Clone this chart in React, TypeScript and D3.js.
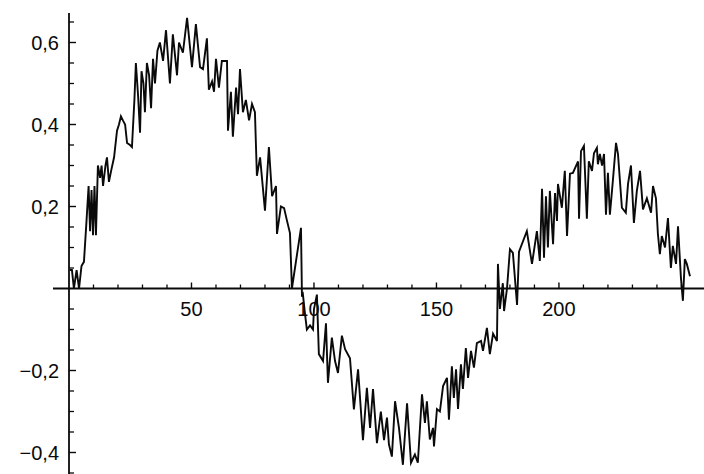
import { useEffect, useRef } from 'react';
import * as d3 from 'd3';

const sampleX = [
  0.4, 1.2, 2.0, 3.1, 4.1, 5.1, 6.1, 7.1, 8.0, 8.6, 9.2, 9.8, 10.4, 11.0, 11.8, 12.7, 13.3, 13.9, 14.9, 15.5,
  16.3, 17.3, 18.4, 19.6, 20.4, 21.2, 22.0, 22.9, 23.7, 24.9, 25.7, 26.7, 27.3, 28.2, 29.0, 29.6, 30.4, 31.0,
  31.8, 32.7, 33.5, 34.3, 35.1, 36.1, 37.1, 38.4, 39.6, 41.2, 42.4, 44.1, 44.9, 46.5, 48.2, 50.2, 51.8, 53.5,
  54.7, 56.3, 57.1, 58.4, 59.2, 60.0, 61.2, 62.4, 64.5, 64.9, 66.1, 66.9, 68.2, 69.0, 69.8, 71.0, 72.2, 73.5,
  74.7, 75.9, 76.7, 78.0, 80.0, 81.6, 82.9, 84.5, 84.9, 86.5, 87.8, 89.0, 90.2, 91.0, 94.7, 95.1, 95.5, 96.3,
  97.1, 98.4, 99.6, 100.0, 101.2, 102.0, 103.7, 104.9, 105.7, 107.3, 108.6, 109.8, 111.4, 112.7, 114.7, 116.3,
  118.0, 120.0, 121.6, 122.9, 124.1, 125.7, 127.3, 128.6, 129.8, 130.6, 131.8, 133.1, 134.7, 136.3, 138.0,
  139.6, 141.2, 142.4, 144.1, 145.3, 146.1, 147.3, 148.6, 149.0, 150.2, 151.4, 152.7, 154.3, 155.1, 156.3,
  157.1, 158.0, 158.8, 160.0, 160.8, 162.0, 162.9, 164.1, 165.3, 166.5, 168.2, 169.0, 170.6, 171.8, 173.1,
  174.7, 175.1, 175.9, 177.1, 177.6, 178.8, 180.0, 181.2, 182.9, 183.7, 186.9, 189.0, 191.0, 192.2, 193.1,
  193.9, 194.7, 195.5, 196.3, 197.6, 198.4, 199.2, 199.6, 201.2, 202.4, 203.3, 204.5, 205.7, 207.8, 208.2,
  209.0, 210.2, 211.4, 212.2, 213.5, 214.3, 215.5, 215.9, 216.7, 217.6, 218.4, 219.2, 220.0, 220.8, 222.0,
  223.3, 224.1, 225.7, 227.3, 228.2, 229.4, 230.6, 231.8, 233.1, 234.3, 235.9, 237.6, 238.4, 239.6, 240.4,
  241.2, 242.0, 243.3, 244.5, 245.7, 246.5, 247.8, 248.6, 249.8, 250.6, 251.4, 252.2, 253.5,
];

const sampleY = [
  0.045, 0.045, 0.0, 0.045, 0.0, 0.055, 0.065, 0.16, 0.25, 0.14, 0.24, 0.13, 0.25, 0.13, 0.3, 0.27, 0.3, 0.25,
  0.3, 0.32, 0.26, 0.29, 0.32, 0.385, 0.4, 0.42, 0.41, 0.4, 0.355, 0.35, 0.345, 0.46, 0.55, 0.47, 0.38, 0.53,
  0.5, 0.43, 0.55, 0.52, 0.44, 0.56, 0.5, 0.58, 0.6, 0.555, 0.63, 0.5, 0.62, 0.52, 0.6, 0.575, 0.66, 0.54,
  0.645, 0.54, 0.535, 0.61, 0.485, 0.505, 0.48, 0.56, 0.49, 0.555, 0.555, 0.385, 0.48, 0.37, 0.49, 0.425,
  0.535, 0.43, 0.46, 0.41, 0.45, 0.43, 0.275, 0.32, 0.19, 0.345, 0.225, 0.25, 0.133, 0.2, 0.196, 0.165,
  0.135, 0.0, 0.148, -0.02, -0.015, -0.06, -0.1, -0.09, -0.1, -0.05, -0.015, -0.16, -0.177, -0.085, -0.23,
  -0.12, -0.177, -0.206, -0.115, -0.148, -0.17, -0.295, -0.197, -0.37, -0.242, -0.34, -0.245, -0.377, -0.3,
  -0.37, -0.315, -0.38, -0.41, -0.275, -0.34, -0.43, -0.28, -0.425, -0.405, -0.425, -0.258, -0.328, -0.275,
  -0.368, -0.34, -0.385, -0.294, -0.3, -0.238, -0.218, -0.32, -0.19, -0.267, -0.197, -0.294, -0.185, -0.245,
  -0.145, -0.218, -0.152, -0.193, -0.133, -0.128, -0.152, -0.096, -0.16, -0.11, -0.128, 0.06, -0.05, 0.013,
  -0.055, 0.0, 0.096, 0.087, -0.04, 0.09, 0.14, 0.06, 0.14, 0.067, 0.243, 0.075, 0.225, 0.1, 0.238, 0.108,
  0.233, 0.165, 0.255, 0.197, 0.287, 0.128, 0.28, 0.282, 0.31, 0.17, 0.335, 0.348, 0.17, 0.31, 0.287, 0.33,
  0.343, 0.303, 0.328, 0.3, 0.328, 0.18, 0.282, 0.18, 0.262, 0.355, 0.328, 0.197, 0.185, 0.255, 0.3, 0.16,
  0.238, 0.287, 0.193, 0.22, 0.185, 0.25, 0.22, 0.133, 0.084, 0.128, 0.1, 0.172, 0.05, 0.104, 0.06, 0.152,
  0.026, -0.03, 0.072, 0.06, 0.03,
];

const xMajorTicks = [50, 100, 150, 200];
const xMajorLabels = ['50', '100', '150', '200'];
const xMinorTicks = [10, 20, 30, 40, 60, 70, 80, 90, 110, 120, 130, 140, 160, 170, 180, 190, 210, 220, 230, 240, 250];
const yMajorTicks = [-0.4, -0.2, 0.2, 0.4, 0.6];
const yMajorLabels = ['\u22120,4', '\u22120,2', '0,2', '0,4', '0,6'];
const yMinorTicks = [-0.45, -0.35, -0.3, -0.25, -0.15, -0.1, -0.05, 0.05, 0.1, 0.15, 0.25, 0.3, 0.35, 0.45, 0.5, 0.55, 0.65];

export default function App() {
  const rootRef = useRef<HTMLDivElement>(null);

  useEffect(() => {
    const container = rootRef.current;
    if (!container) return undefined;
    document.body.style.margin = '0';

    const width = 704;
    const height = 474;
    const ink = '#0a0a0a';
    const font = '"Liberation Sans", Arial, sans-serif';

    d3.select(container).selectAll('*').remove();
    const svg = d3
      .select(container)
      .append('svg')
      .attr('width', width)
      .attr('height', height)
      .style('display', 'block')
      .style('background', '#fff');

    const x = d3.scaleLinear().domain([0, 253.5]).range([69, 690]);
    const y = d3.scaleLinear().domain([0.6, -0.4]).range([42.5, 452.5]);
    const x0 = x(0);
    const y0 = y(0);

    // axes lines
    svg.append('line')
      .attr('x1', 53).attr('x2', width)
      .attr('y1', y0).attr('y2', y0)
      .attr('stroke', ink).attr('stroke-width', 1.8);
    svg.append('line')
      .attr('x1', x0).attr('x2', x0)
      .attr('y1', 13).attr('y2', height)
      .attr('stroke', ink).attr('stroke-width', 1.8);

    // x ticks point upward, y ticks point right
    const xTicks = svg.append('g');
    xMinorTicks.forEach(v => {
      xTicks.append('line')
        .attr('x1', x(v)).attr('x2', x(v))
        .attr('y1', y0).attr('y2', y0 - 4)
        .attr('stroke', ink).attr('stroke-width', 1.3);
    });
    xMajorTicks.forEach((v, i) => {
      xTicks.append('line')
        .attr('x1', x(v)).attr('x2', x(v))
        .attr('y1', y0).attr('y2', y0 - 6)
        .attr('stroke', ink).attr('stroke-width', 1.4);
      xTicks.append('text')
        .attr('x', x(v))
        .attr('y', y0 + 27)
        .attr('text-anchor', 'middle')
        .attr('font-family', font)
        .attr('font-size', '20px')
        .attr('fill', ink)
        .text(xMajorLabels[i]);
    });

    const yTicks = svg.append('g');
    yMinorTicks.forEach(v => {
      yTicks.append('line')
        .attr('x1', x0).attr('x2', x0 + 5)
        .attr('y1', y(v)).attr('y2', y(v))
        .attr('stroke', ink).attr('stroke-width', 1.3);
    });
    yMajorTicks.forEach((v, i) => {
      yTicks.append('line')
        .attr('x1', x0).attr('x2', x0 + 7)
        .attr('y1', y(v)).attr('y2', y(v))
        .attr('stroke', ink).attr('stroke-width', 1.4);
      yTicks.append('text')
        .attr('x', x0 - 10)
        .attr('y', y(v) + 7)
        .attr('text-anchor', 'end')
        .attr('font-family', font)
        .attr('font-size', '20px')
        .attr('fill', ink)
        .text(yMajorLabels[i]);
    });

    const points = sampleX.map((v, i) => [v, sampleY[i]] as [number, number]);
    const line = d3
      .line<[number, number]>()
      .x(d => x(d[0]))
      .y(d => y(d[1]));

    svg.append('path')
      .datum(points)
      .attr('fill', 'none')
      .attr('stroke', ink)
      .attr('stroke-width', 1.9)
      .attr('stroke-linejoin', 'miter')
      .attr('d', line);

    return () => {
      d3.select(container).selectAll('*').remove();
    };
  }, []);

  return <div ref={rootRef} />;
}
